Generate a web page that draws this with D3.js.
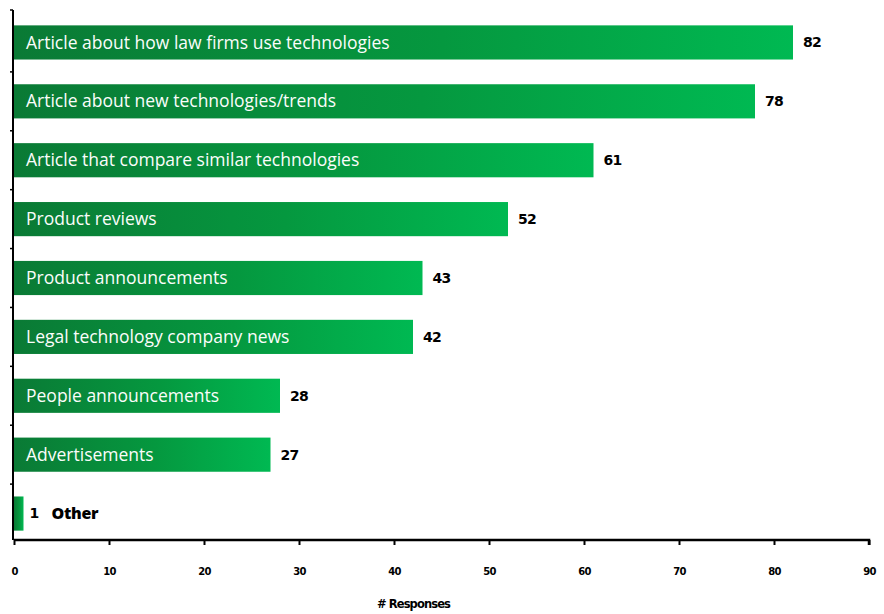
<!DOCTYPE html>
<html>
<head>
<meta charset="utf-8">
<script src="https://cdn.jsdelivr.net/npm/d3@7/dist/d3.min.js"></script>
<style>
  html, body { margin: 0; padding: 0; background: #fff; }
  svg { display: block; }
</style>
</head>
<body>
<svg id="chart" width="884" height="614"></svg>
<script>
// Survey: which kinds of content readers want
const categories = [
  "Article about how law firms use technologies",
  "Article about new technologies/trends",
  "Article that compare similar technologies",
  "Product reviews",
  "Product announcements",
  "Legal technology company news",
  "People announcements",
  "Advertisements",
  "Other"
];
const responses = [82, 78, 61, 52, 43, 42, 28, 27, 1];
const xTicks = [0, 10, 20, 30, 40, 50, 60, 70, 80, 90];
const axisTitle = "# Responses";

const svg = d3.select("#chart");
const plotLeft = 14, plotRight = 869, plotTop = 13, plotBottom = 543, axisY = 540;

const x = d3.scaleLinear().domain([0, 90]).range([plotLeft, plotRight]);
const y = d3.scaleBand().domain(categories).range([plotTop, plotBottom]).paddingInner(0.42).paddingOuter(0.21);

// per-bar gradient, dark green to bright green
const defs = svg.append("defs");
const grad = defs.append("linearGradient").attr("id", "barGrad")
  .attr("x1", "0").attr("x2", "1").attr("y1", "0").attr("y2", "0");
grad.append("stop").attr("offset", "0%").attr("stop-color", "#0a7a35");
grad.append("stop").attr("offset", "55%").attr("stop-color", "#05983f");
grad.append("stop").attr("offset", "100%").attr("stop-color", "#00b952");

const data = categories.map((c, i) => ({ cat: c, v: responses[i] }));

svg.append("g").selectAll("rect").data(data).join("rect")
  .attr("x", x(0))
  .attr("y", d => y(d.cat))
  .attr("width", d => x(d.v) - x(0))
  .attr("height", y.bandwidth())
  .attr("fill", "url(#barGrad)");

// category labels: inside the bar in white, outside in black when the bar is too short
const inside = d => x(d.v) - x(0) > 100;
svg.append("g").selectAll("text.cat").data(data).join("text")
  .attr("class", "cat")
  .attr("x", d => inside(d) ? 26 : x(d.v) + 28)
  .attr("y", d => y(d.cat) + y.bandwidth() / 2)
  .attr("dy", "0.35em")
  .attr("font-family", "'Open Sans', sans-serif")
  .attr("font-size", d => inside(d) ? 17.5 : 16)
  .attr("font-weight", d => inside(d) ? 400 : 800)
  .attr("letter-spacing", d => inside(d) ? "0" : "-0.3")
  .attr("fill", d => inside(d) ? "#fbfdfb" : "#000000")
  .text(d => d.cat);

// value labels
svg.append("g").selectAll("text.val").data(data).join("text")
  .attr("class", "val")
  .attr("x", d => x(d.v) + (d.v < 5 ? 6 : 10))
  .attr("y", d => y(d.cat) + y.bandwidth() / 2)
  .attr("dy", "0.35em")
  .attr("font-family", "'DejaVu Sans', sans-serif")
  .attr("font-size", 14)
  .attr("font-weight", 700)
  .attr("letter-spacing", "-0.8")
  .attr("fill", "#000")
  .text(d => d.v);

// x axis
const xAxis = d3.axisBottom(x).tickValues(xTicks).tickSize(5).tickPadding(23).tickSizeOuter(5);
const gx = svg.append("g").attr("transform", `translate(0,${axisY})`).call(xAxis);
gx.select(".domain").attr("stroke", "#000").attr("stroke-width", 2.5)
  .attr("d", `M${x(0)},0H${x(90)}V5`);
gx.selectAll(".tick line").attr("stroke", "#000").attr("stroke-width", 2);
gx.selectAll(".tick text")
  .attr("font-family", "'DejaVu Sans', sans-serif")
  .attr("font-size", 10).attr("font-weight", 700)
  .attr("letter-spacing", "-0.8").attr("fill", "#000");

// y axis line with category boundary ticks
const gy = svg.append("g");
gy.append("line").attr("x1", 13).attr("x2", 13).attr("y1", 10).attr("y2", axisY)
  .attr("stroke", "#000").attr("stroke-width", 2);
const bounds = categories.slice(0, -1).map(c => y(c) + y.bandwidth() + y.step() * y.paddingInner() / 2);
gy.selectAll("line.tk").data([10, ...bounds]).join("line").attr("class", "tk")
  .attr("x1", 10).attr("x2", 13).attr("y1", d => d).attr("y2", d => d)
  .attr("stroke", "#000").attr("stroke-width", 1.5);

svg.append("text")
  .attr("x", (x(0) + x(90)) / 2 - 28)
  .attr("y", 608)
  .attr("text-anchor", "middle")
  .attr("font-family", "'DejaVu Sans', sans-serif")
  .attr("font-size", 11.5).attr("font-weight", 700)
  .attr("letter-spacing", "-0.9")
  .text(axisTitle);
</script>
</body>
</html>
